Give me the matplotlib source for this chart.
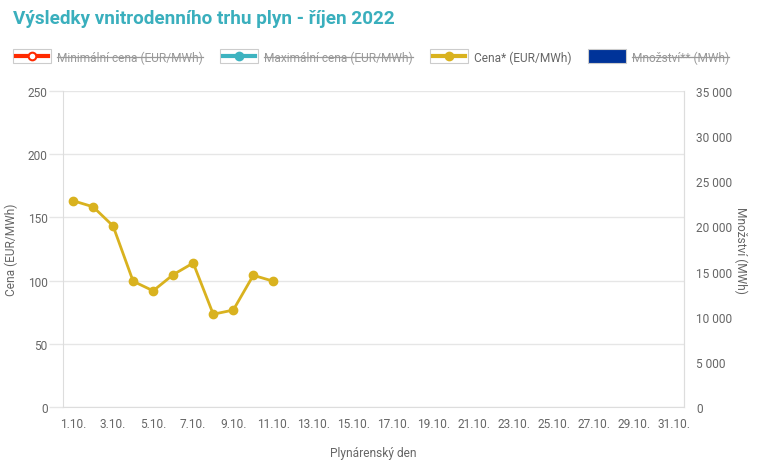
import matplotlib
matplotlib.use("Agg")
import matplotlib.pyplot as plt
from matplotlib.lines import Line2D
from matplotlib.patches import Rectangle
from matplotlib.ticker import FuncFormatter

plt.rcParams['font.family'] = ['Roboto', 'DejaVu Sans']

days = [f"{d}.10." for d in range(1, 32)]
price = [163.2, 158.4, 143.2, 99.5, 91.9, 104.7, 113.9, 73.4, 76.7, 104.2, 99.5]
left_ticks = [0, 50, 100, 150, 200, 250]
right_ticks = [0, 5000, 10000, 15000, 20000, 25000, 30000, 35000]
legend_labels = ["Minimální cena (EUR/MWh)", "Maximální cena (EUR/MWh)", "Cena* (EUR/MWh)", "Množství** (MWh)"]
legend_hidden = [True, True, False, True]

title = "Výsledky vnitrodenního trhu plyn - říjen 2022"
c_min, c_max, c_price, c_qty = "#FF2A00", "#3DB3C0", "#D9B21F", "#003399"
grid_c = "#E6E6E6"
tick_c = "#666666"

fig = plt.figure(figsize=(7.8, 4.64), dpi=100)
W, H = 780, 464
L, R, T, B = 63, 684, 92, 408
ax = fig.add_axes([L / W, 1 - B / H, (R - L) / W, (B - T) / H])
x = list(range(len(price)))
ax.plot(x, price, color=c_price, lw=2, marker='o', ms=6, zorder=3, clip_on=False)
ax.set_xlim(-0.5, len(days) - 0.5)
ax.set_ylim(0, 250)
ax.set_yticks(left_ticks)
ax.set_xticks(range(0, len(days), 2))
ax.set_xticklabels(days[::2])
ax.grid(axis='y', color=grid_c, lw=1)
ax.set_axisbelow(True)
ax.spines['top'].set_visible(False)
for s in ['left', 'right', 'bottom']:
    ax.spines[s].set_color("#DDDDDD")
ax.tick_params(axis='both', colors=tick_c, labelsize=8.6)
ax.tick_params(axis='y', length=10, color=grid_c, width=1, pad=1)
ax.tick_params(axis='x', length=0, pad=7)
ax.set_ylabel("Cena (EUR/MWh)", color=tick_c, fontsize=8.6)
ax.yaxis.set_label_coords((18 - L) / (R - L), 0.5)
ax.set_xlabel("Plynárenský den", color=tick_c, fontsize=8.6)
ax.xaxis.set_label_coords(0.5, -(447 - B) / (B - T))

ax2 = ax.twinx()
ax2.set_ylim(0, 35000)
ax2.set_yticks(right_ticks)
ax2.yaxis.set_major_formatter(FuncFormatter(lambda v, p: f"{int(v):,}".replace(",", " ")))
ax2.tick_params(axis='y', colors=tick_c, labelsize=8.6, length=0, pad=9)
for s in ['top', 'left', 'bottom']:
    ax2.spines[s].set_visible(False)
ax2.spines['right'].set_color("#DDDDDD")
ax2.set_ylabel("Množství (MWh)", color=tick_c, fontsize=8.6, rotation=270, va='center')
ax2.yaxis.set_label_coords((741 - L) / (R - L), 0.5)

fig.text(13 / W, 1 - 19 / H, title, color="#3AAFBD", fontsize=13.6, fontweight='bold', va='center', ha='left')

# legend
leg_y = 1 - 57 / H
starts = [13, 220, 430, 588]
colors = [c_min, c_max, c_price, c_qty]
fig.canvas.draw()
rend = fig.canvas.get_renderer()
for i, (sx, lab) in enumerate(zip(starts, legend_labels)):
    bx = sx / W
    bw = 38 / W
    bh = 14 / H
    if i < 3:
        fig.patches.append(Rectangle((bx, leg_y - bh / 2), bw, bh, transform=fig.transFigure,
                                     facecolor='white', edgecolor='#CCCCCC', lw=0.8))
        fig.lines.append(Line2D([bx + 3 / W, bx + 35 / W], [leg_y, leg_y], transform=fig.transFigure,
                                color=colors[i], lw=3))
        mfc = 'white' if i == 0 else colors[i]
        fig.lines.append(Line2D([bx + 19 / W], [leg_y], transform=fig.transFigure, marker='o', ms=5.5,
                                color=colors[i], mfc=mfc, mew=1.5))
    else:
        fig.patches.append(Rectangle((bx, leg_y - 7 / H), bw, 14 / H, transform=fig.transFigure,
                                     facecolor=colors[i], edgecolor='#CCCCCC', lw=0.8))
    tc = "#999999" if legend_hidden[i] else "#666666"
    t = fig.text(bx + 44 / W, leg_y - 1 / H, lab, color=tc, fontsize=8.6, va='center', ha='left')
    if legend_hidden[i]:
        bb = t.get_window_extent(renderer=rend)
        ymid = (bb.y0 + bb.y1) / 2 / H
        fig.lines.append(Line2D([bb.x0 / W, bb.x1 / W], [ymid, ymid], transform=fig.transFigure,
                                color="#999999", lw=0.9))

fig.savefig("out.png", dpi=100)
